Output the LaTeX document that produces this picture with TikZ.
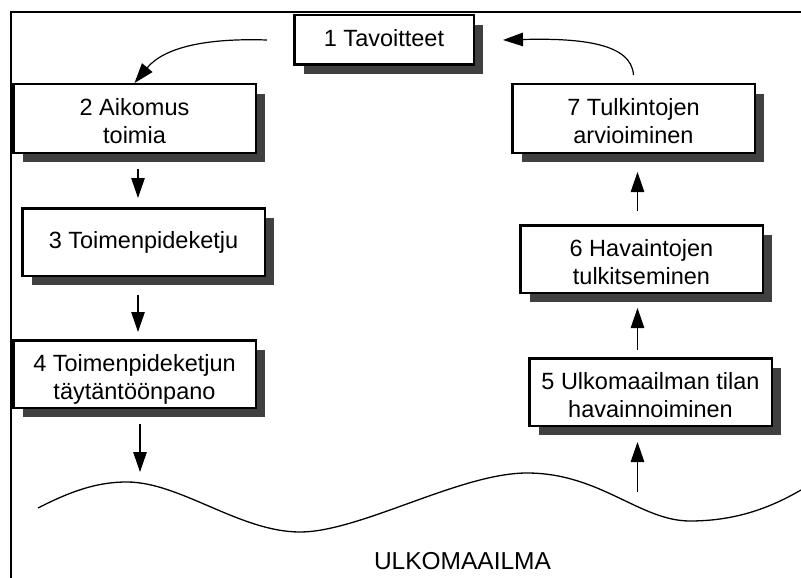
\documentclass[tikz,border=0pt]{standalone}
\usepackage{fontspec}
\setmainfont{Liberation Sans}
\usetikzlibrary{arrows.meta,shadows}
\definecolor{shade}{RGB}{64,64,64}
\begin{document}
\begin{tikzpicture}[x=1pt,y=-1pt,
  stage/.style={draw=black, line width=2.5pt, fill=white, align=center, inner sep=2pt,
    font=\fontsize{23.5}{28}\selectfont,
    drop shadow={shadow xshift=9.5pt, shadow yshift=-9.5pt, fill=shade, opacity=1}},
  wide/.style={minimum width=242.5pt, minimum height=67.5pt},
  oneline/.style={text height=17.5pt, text depth=5pt},
  twoline/.style={text height=50pt, text depth=0pt},
  flow/.style={line width=1.2pt, -{Triangle[length=20pt,width=13.5pt]}},
  rule/.style={line width=2.5pt},
  wave/.style={line width=1.3pt}]
\useasboundingbox (0,0) rectangle (801,578);

% frame
\draw[rule] (11,580) -- (11,12) -- (805,12);

% column guides for the vertical arrows
\coordinate (lx) at (138,0);
\coordinate (rx) at (637.5,0);

% stages
\node[stage, oneline, minimum width=179.5pt, minimum height=49.5pt] (b1) at (384,40) {1 Tavoitteet};
\node[stage, wide, twoline, minimum height=68.5pt] (b2) at (134.5,118.5) {2 Aikomus\\toimia};
\node[stage, wide, oneline] (b3) at (143.5,242) {3 Toimenpideketju};
\node[stage, wide, twoline] (b4) at (134.5,374) {4 Toimenpideketjun\\täytäntöönpano};
\node[stage, wide, twoline] (b5) at (650.5,392) {5 Ulkomaailman tilan\\havainnoiminen};
\node[stage, wide, twoline] (b6) at (641.5,259) {6 Havaintojen\\tulkitseminen};
\node[stage, wide, twoline, minimum height=68.5pt] (b7) at (633.5,118.5) {7 Tulkintojen\\arvioiminen};

% outside world
\draw[wave] (38,508) .. controls (75,489) and (100,482) .. (127,482)
  .. controls (180,482) and (240,532) .. (300,532)
  .. controls (360,532) and (460,473) .. (527,473)
  .. controls (600,473) and (640,521) .. (690,521)
  .. controls (740,521) and (775,505) .. (801,490);
\coordinate (w4) at (140,472);
\coordinate (w5) at (637.5,492);
\node[anchor=base, font=\fontsize{24.5}{29}\selectfont, inner sep=0pt] (world) at (462.5,569) {ULKOMAAILMA};

% connectors
\draw[flow] ([xshift=-26pt]b1.west) .. controls +(-60,-2) and +(30,-36) .. (b2.north);
\draw[flow, shorten <=15pt, shorten >=9pt] (b2.south -| lx) -- (b3.north -| lx);
\draw[flow, shorten <=18pt, shorten >=7pt] (b3.south -| lx) -- (b4.north -| lx);
\draw[flow, shorten <=15pt] (b4.south -| w4) -- (w4);
\draw[flow, shorten >=15pt] (w5) -- (b5.south -| rx);
\draw[flow, shorten <=7pt, shorten >=14pt] (b5.north -| rx) -- (b6.south -| rx);
\draw[flow, shorten <=13pt, shorten >=18pt] (b6.north -| rx) -- (b7.south -| rx);
\draw[flow] ([yshift=8pt]b7.north) .. controls +(-2,-32) and +(77,-2) .. ([xshift=28pt]b1.east);
\end{tikzpicture}
\end{document}
